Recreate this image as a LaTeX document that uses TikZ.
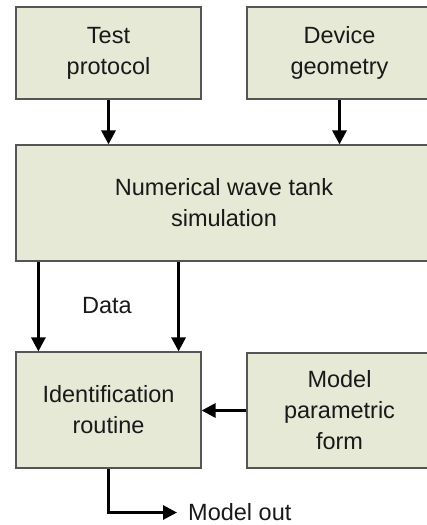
\documentclass[tikz,border=0pt]{standalone}
\usepackage{fontspec}
\setmainfont{Liberation Sans}
\usetikzlibrary{arrows.meta}
\definecolor{boxfill}{RGB}{229,233,213}
\definecolor{boxline}{RGB}{85,85,85}
\definecolor{txt}{RGB}{25,25,25}
\tikzset{
  box/.style={draw=boxline, line width=1.2pt, fill=boxfill, align=center,
    text=txt, inner sep=0pt, font=\fontsize{23.5}{31}\selectfont},
  arr/.style={line width=3pt, -{Triangle[width=14pt,length=14pt]}, black},
  lbl/.style={text=txt, font=\fontsize{23.5}{31}\selectfont, inner sep=0pt}
}
\begin{document}
\begin{tikzpicture}[x=1pt,y=-1pt]
\useasboundingbox (0,0) rectangle (427,525);
\node[box, minimum width=185pt, minimum height=92pt] (tp) at (108.5,53) {Test\\protocol};
\node[box, minimum width=185pt, minimum height=92pt] (dg) at (339.5,53) {Device\\geometry};
\node[box, minimum width=416pt, minimum height=116pt] (nwt) at (224,203) {Numerical wave tank\\simulation};
\node[box, minimum width=185pt, minimum height=116pt] (id) at (108.5,410) {Identification\\routine};
\node[box, minimum width=185pt, minimum height=115pt] (mp) at (339.5,410.5) {Model\\parametric\\form};
\node[lbl, anchor=west, inner xsep=11pt] (out) at (177,512.5) {Model out};
\node[lbl] (data) at (107,306) {Data};
\draw[arr] (tp.south) -- (tp.south |- nwt.north);
\draw[arr] (dg.south) -- (dg.south |- nwt.north);
\draw[arr] ([xshift=23pt]nwt.south west) -- ([xshift=23pt]id.north west);
\draw[arr] ([xshift=-23pt]nwt.south -| id.north east) -- ([xshift=-23pt]id.north east);
\draw[arr] (mp.west) -- (mp.west -| id.east);
\draw[arr] (id.south) |- (out.west);
\end{tikzpicture}
\end{document}
